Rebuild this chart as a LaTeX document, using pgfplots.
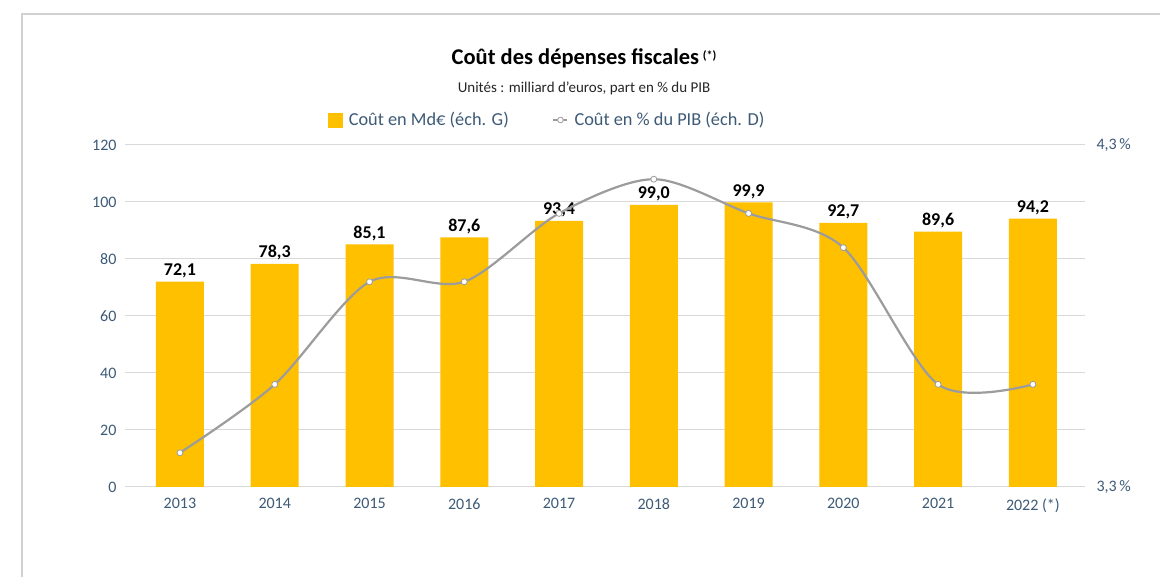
\documentclass[border=0pt]{standalone}
\usepackage{pgfplots}
\pgfplotsset{compat=1.18}
\usepackage{fontspec}
\setmainfont{Carlito}
\definecolor{gold}{HTML}{FFC000}
\definecolor{lgray}{HTML}{9C9C9C}
\definecolor{axtext}{HTML}{3D5A77}
\definecolor{gridc}{HTML}{D9D9D9}
\begin{document}
\begin{tikzpicture}
\useasboundingbox (0pt,0pt) rectangle (1160pt,577pt);
\fill[white] (0pt,0pt) rectangle (1160pt,577pt);
\draw[color=black!18, line width=1.5pt] (22pt,0pt) -- (22pt,563pt) -- (1160pt,563pt);
\node[font=\bfseries\fontsize{22.5}{26}\selectfont, anchor=base] at (584pt,512pt) {Coût des dépenses fiscales\,\raisebox{0.5ex}{\fontsize{12}{14}\selectfont(*)}};
\node[font=\fontsize{15}{17}\selectfont, text=black!85, anchor=base] at (584pt,484pt) {Unités : milliard d’euros, part en \% du PIB};
\begin{axis}[
  at={(125pt,90pt)}, anchor=south west, scale only axis,
  width=960pt, height=342pt,
  xmin=-0.58, xmax=9.55, ymin=0, ymax=120,
  xtick={0,...,9},
  xticklabels={2013,2014,2015,2016,2017,2018,2019,2020,2021,2022 (*)},
  ytick={0,20,...,120},
  yticklabels={0,20,40,60,80,100,120},
  ymajorgrids, grid style={gridc, line width=1pt},
  axis line style={draw=none},
  major tick length=0pt,
  tick label style={text=axtext, font=\fontsize{16}{18}\selectfont},
  yticklabel style={xshift=-5pt},
  xticklabel style={yshift=-8pt},
  /pgf/number format/assume math mode=true,
  /pgf/number format/.cd, use comma, fixed, fixed zerofill, precision=1,
]
\addplot[ybar, bar width=48pt, fill=gold, draw=none,
  nodes near coords,
  nodes near coords style={font=\bfseries\fontsize{18}{21}\selectfont, text=black},
] coordinates {(0,72.1) (1,78.3) (2,85.1) (3,87.6) (4,93.4) (5,99.0) (6,99.9) (7,92.7) (8,89.6) (9,94.2)};
\end{axis}
\begin{axis}[
  at={(125pt,90pt)}, anchor=south west, scale only axis,
  width=960pt, height=342pt,
  xmin=-0.58, xmax=9.55, ymin=3.3, ymax=4.3,
  axis y line*=right, axis x line=none,
  axis line style={draw=none},
  ytick={3.3,4.3}, yticklabels={{3,3\,\%},{4,3\,\%}},
  major tick length=0pt,
  yticklabel style={text=axtext, font=\fontsize{16}{18}\selectfont, xshift=8pt},
  legend style={at={(0.44,1)}, anchor=center, yshift=25pt, draw=none, fill=none,
    font=\fontsize{18.3}{21}\selectfont, text=axtext, inner sep=0pt},
  legend columns=2,
  legend cell align=left,
  /tikz/every even column/.append style={column sep=42pt},
]
\addlegendimage{legend image code/.code={\fill[gold] (0pt,-7pt) rectangle (14pt,7pt); \path (18pt,0pt);}}
\addlegendentry{Coût en Md€ (éch. G)}
\addplot[lgray, line width=2.2pt, smooth, mark=*, mark size=3pt,
  mark options={fill=white, draw=lgray, line width=0.8pt},
  legend image code/.code={\draw[lgray, line width=1.2pt] (0pt,0pt) -- (14pt,0pt);
    \draw[lgray, fill=white, line width=0.8pt] (7pt,0pt) circle (2.8pt); \path (18pt,0pt);}]
 coordinates {(0,3.4) (1,3.6) (2,3.9) (3,3.9) (4,4.1) (5,4.2) (6,4.1) (7,4.0) (8,3.6) (9,3.6)};
\addlegendentry{Coût en \% du PIB (éch. D)}
\end{axis}
\end{tikzpicture}
\end{document}
